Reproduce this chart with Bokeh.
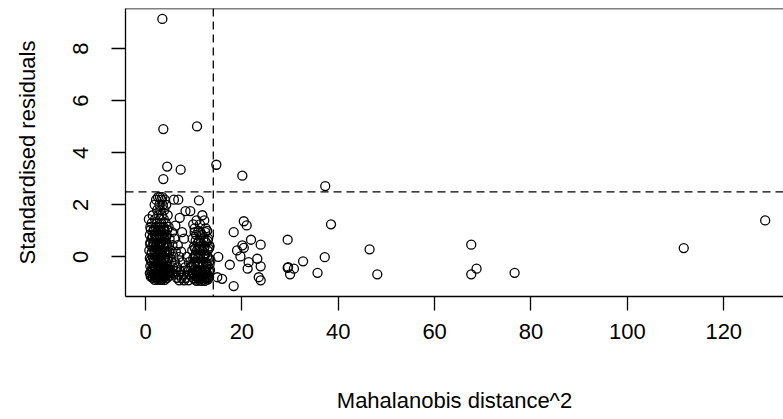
from bokeh.plotting import figure
from bokeh.models import Range1d, FixedTicker, Span
from bokeh.embed import file_html
from bokeh.resources import INLINE

# Observations away from the main mass: (squared Mahalanobis distance, standardised residual)
outlier_d2 = [3.5, 3.7, 10.7, 4.5, 7.3, 3.7, 14.7, 20.1, 37.3, 38.5, 29.5, 46.5, 67.6,
              111.7, 128.6, 76.6, 68.7, 67.6, 48.1]
outlier_res = [9.14, 4.91, 5.01, 3.47, 3.35, 2.99, 3.54, 3.12, 2.72, 1.25, 0.66, 0.29, 0.47,
               0.34, 1.40, -0.61, -0.45, -0.67, -0.67]

# Moderate distances (roughly 14-38)
mid_d2 = [20.4, 21.0, 18.3, 21.9, 23.9, 20.1, 19.0, 20.4, 19.7, 23.2, 21.4, 23.9, 21.2,
          17.5, 29.6, 32.7, 30.8, 30.0, 35.7, 23.5, 23.9, 15.9, 14.9, 18.3, 13.5, 15.1,
          37.2, 29.5]
mid_res = [1.37, 1.21, 0.95, 0.66, 0.47, 0.44, 0.25, 0.35, 0.02, -0.07, -0.20, -0.36, -0.45,
           -0.30, -0.39, -0.17, -0.45, -0.67, -0.61, -0.78, -0.90, -0.84, -0.78, -1.12, -0.13,
           0.00, -0.01, -0.42]

# Dense group, low distances (about 0.7-5.6)
low_d2 = [2.6, 3.0, 3.5, 2.2, 3.3, 4.0, 1.9, 2.9, 3.6, 4.3, 2.4, 3.1, 3.9,
          1.5, 2.7, 3.4, 4.6, 0.7, 2.0, 3.0, 3.8, 1.3, 2.4, 3.3, 4.2,
          1.0, 2.1, 2.9, 3.7, 4.8, 1.6, 2.6, 3.2, 4.0, 0.9, 1.9, 2.8, 3.5, 4.4,
          1.3, 2.3, 3.0, 3.9, 5.0, 1.0, 1.7, 2.6, 3.3, 4.2, 1.4, 2.1, 2.9, 3.7, 4.6,
          0.8, 1.8, 2.5, 3.2, 4.0, 5.2, 1.2, 2.2, 2.8, 3.5, 4.4,
          0.9, 1.6, 2.4, 3.1, 3.9, 4.8, 1.3, 2.0, 2.7, 3.4, 4.2, 5.4,
          1.0, 1.7, 2.5, 3.0, 3.8, 4.6, 1.4, 2.1, 2.8, 3.5, 4.3, 5.1,
          0.9, 1.8, 2.4, 3.2, 3.9, 4.8, 5.6, 1.2, 2.0, 2.7, 3.4, 4.1, 5.0,
          1.5, 2.3, 3.0, 3.7, 4.5, 1.9, 2.6, 3.3, 4.0]
low_res = [2.30, 2.30, 2.30, 2.20, 2.20, 2.20, 2.00, 2.00, 2.00, 2.00, 1.80, 1.80, 1.80,
           1.60, 1.60, 1.60, 1.60, 1.45, 1.45, 1.45, 1.45, 1.30, 1.30, 1.30, 1.30,
           1.15, 1.15, 1.15, 1.15, 1.15, 1.00, 1.00, 1.00, 1.00, 0.85, 0.85, 0.85, 0.85, 0.85,
           0.70, 0.70, 0.70, 0.70, 0.70, 0.55, 0.55, 0.55, 0.55, 0.55, 0.40, 0.40, 0.40, 0.40, 0.40,
           0.25, 0.25, 0.25, 0.25, 0.25, 0.25, 0.10, 0.10, 0.10, 0.10, 0.10,
           -0.05, -0.05, -0.05, -0.05, -0.05, -0.05, -0.20, -0.20, -0.20, -0.20, -0.20, -0.20,
           -0.35, -0.35, -0.35, -0.35, -0.35, -0.35, -0.50, -0.50, -0.50, -0.50, -0.50, -0.50,
           -0.62, -0.62, -0.62, -0.62, -0.62, -0.62, -0.62, -0.72, -0.72, -0.72, -0.72, -0.72, -0.72,
           -0.80, -0.80, -0.80, -0.80, -0.80, -0.88, -0.88, -0.88, -0.88]

# More observations inside the low-distance group
low2_d2 = [1.1, 1.8, 2.5, 3.1, 3.8, 4.5, 1.5, 2.2, 2.9, 3.6, 4.3,
           1.0, 1.7, 2.4, 3.0, 3.7, 4.4, 1.3, 2.0, 2.7, 3.3, 4.0, 4.9,
           1.1, 1.8, 2.5, 3.2, 3.9, 4.6, 1.4, 2.1, 2.8, 3.5, 4.2,
           1.2, 1.9, 2.6, 3.3, 4.0, 4.7, 1.6, 2.3, 3.0, 3.7, 4.4,
           1.1, 2.0, 2.7, 3.4, 4.1]
low2_res = [1.05, 1.05, 1.05, 1.05, 1.05, 1.05, 0.78, 0.78, 0.78, 0.78, 0.78,
            0.48, 0.48, 0.48, 0.48, 0.48, 0.48, 0.18, 0.18, 0.18, 0.18, 0.18, 0.18,
            -0.12, -0.12, -0.12, -0.12, -0.12, -0.12, -0.42, -0.42, -0.42, -0.42, -0.42,
            -0.56, -0.56, -0.56, -0.56, -0.56, -0.56, -0.68, -0.68, -0.68, -0.68, -0.68,
            -0.76, -0.76, -0.76, -0.76, -0.76]

# Sparser band between the two dense groups (about 5.5-9.3)
gap_d2 = [5.9, 6.8, 8.3, 7.1, 6.2, 5.5, 7.6, 6.0, 8.0, 5.6, 6.7, 6.3, 7.4,
          5.8, 7.0, 8.6, 6.1, 7.7, 9.0, 5.7, 6.6, 8.2, 9.3, 6.3, 7.2, 8.8,
          5.9, 6.9, 7.8, 9.1, 6.5, 7.5, 8.4, 7.0, 8.0, 8.9]
gap_res = [2.20, 2.20, 1.76, 1.50, 1.20, 0.95, 0.95, 0.70, 0.70, 0.45, 0.45, 0.20, 0.20,
           0.00, 0.00, 0.00, -0.20, -0.20, -0.20, -0.40, -0.40, -0.40, -0.40, -0.55, -0.55, -0.55,
           -0.68, -0.68, -0.68, -0.68, -0.80, -0.80, -0.80, -0.90, -0.90, -0.90]

# Dense group, distances around 9.6-13.4
high_d2 = [11.1, 9.3, 11.8, 10.6, 12.2, 11.3, 9.9, 10.2, 12.5, 12.8, 11.0, 10.5, 11.7,
           9.8, 12.0, 13.0, 10.9, 11.5, 12.6, 10.1, 11.2, 12.3, 13.3,
           9.7, 10.7, 11.8, 12.9, 10.4, 11.4, 12.4, 9.9, 10.9, 12.0, 13.1,
           10.3, 11.3, 12.5, 9.6, 10.8, 11.8, 12.9, 10.2, 11.1, 12.2, 13.4,
           9.8, 10.6, 11.6, 12.6, 10.3, 11.3, 12.1, 13.0, 10.0, 11.0, 11.8, 12.7,
           10.6, 11.5, 12.3]
high_res = [2.17, 1.76, 1.60, 1.40, 1.40, 1.25, 1.25, 1.10, 1.10, 1.00, 1.00, 0.85, 0.85,
            0.70, 0.70, 0.70, 0.55, 0.55, 0.55, 0.40, 0.40, 0.40, 0.40,
            0.25, 0.25, 0.25, 0.25, 0.10, 0.10, 0.10, -0.05, -0.05, -0.05, -0.05,
            -0.20, -0.20, -0.20, -0.35, -0.35, -0.35, -0.35, -0.50, -0.50, -0.50, -0.50,
            -0.62, -0.62, -0.62, -0.62, -0.72, -0.72, -0.72, -0.72, -0.82, -0.82, -0.82, -0.82,
            -0.92, -0.92, -0.92]

# More observations inside the high-distance group
high2_d2 = [10.2, 11.4, 12.4, 10.4, 11.1, 12.3, 12.9, 10.3, 11.0, 12.1, 13.1,
            10.2, 11.2, 12.2, 12.8, 10.0, 11.0, 12.0, 12.7, 13.3,
            10.4, 11.4, 12.4, 13.2, 10.0, 11.0, 11.9, 12.9,
            10.6, 11.6, 12.4, 13.2, 10.3, 11.2, 12.1, 12.9]
high2_res = [0.95, 0.95, 0.95, 0.62, 0.62, 0.62, 0.62, 0.32, 0.32, 0.32, 0.32,
             0.02, 0.02, 0.02, 0.02, -0.28, -0.28, -0.28, -0.28, -0.28,
             -0.56, -0.56, -0.56, -0.56, -0.67, -0.67, -0.67, -0.67,
             -0.78, -0.78, -0.78, -0.78, -0.87, -0.87, -0.87, -0.87]

x_ticks = [0, 20, 40, 60, 80, 100, 120]
y_ticks = [0, 2, 4, 6, 8]

chi2_cutoff = 14.07   # vertical reference line
resid_cutoff = 2.5    # horizontal reference line

d2 = outlier_d2 + mid_d2 + low_d2 + low2_d2 + gap_d2 + high_d2 + high2_d2
res = outlier_res + mid_res + low_res + low2_res + gap_res + high_res + high2_res

FONT = "Liberation Sans"
FS = "22px"

x_lo, x_hi = -4.15, 132.4
y_lo, y_hi = -1.52, 9.54

p = figure(width=783, height=419, output_backend="svg", toolbar_location=None,
           x_range=Range1d(x_lo, x_hi), y_range=Range1d(y_lo, y_hi),
           min_border_left=125, min_border_right=0, min_border_top=8, min_border_bottom=123,
           background_fill_color="white", border_fill_color="white")
p.outline_line_color = None
p.grid.visible = False

for ax in (p.xaxis[0], p.yaxis[0]):
    ax.axis_line_color = "black"
    ax.axis_line_width = 1.3
    ax.major_tick_line_color = "black"
    ax.major_tick_line_width = 1.3
    ax.major_tick_out = 14
    ax.major_tick_in = 0
    ax.minor_tick_line_color = None
    ax.major_label_text_font = FONT
    ax.major_label_text_font_size = FS
    ax.major_label_text_color = "black"
    ax.axis_label_text_font = FONT
    ax.axis_label_text_font_size = FS
    ax.axis_label_text_font_style = "normal"
    ax.axis_label_text_color = "black"

p.xaxis[0].ticker = FixedTicker(ticks=x_ticks)
p.yaxis[0].ticker = FixedTicker(ticks=y_ticks)
p.xaxis[0].axis_label = "Mahalanobis distance^2"
p.yaxis[0].axis_label = "Standardised residuals"
p.xaxis[0].major_label_standoff = 13
p.xaxis[0].axis_label_standoff = 46
p.yaxis[0].major_label_orientation = "parallel"
p.yaxis[0].major_label_standoff = 23
p.yaxis[0].axis_label_standoff = 31

# top edge of the box
p.add_layout(Span(location=y_hi, dimension="width", line_color="black", line_width=1.3))

# reference lines
p.add_layout(Span(location=chi2_cutoff, dimension="height", line_color="black",
                  line_width=1.3, line_dash="8 5"))
p.add_layout(Span(location=resid_cutoff, dimension="width", line_color="black",
                  line_width=1.3, line_dash="8 5"))

p.scatter(d2, res, marker="circle", size=9, fill_color=None,
          line_color="black", line_width=1.3)

open("out.html", "w").write(file_html(p, INLINE))
